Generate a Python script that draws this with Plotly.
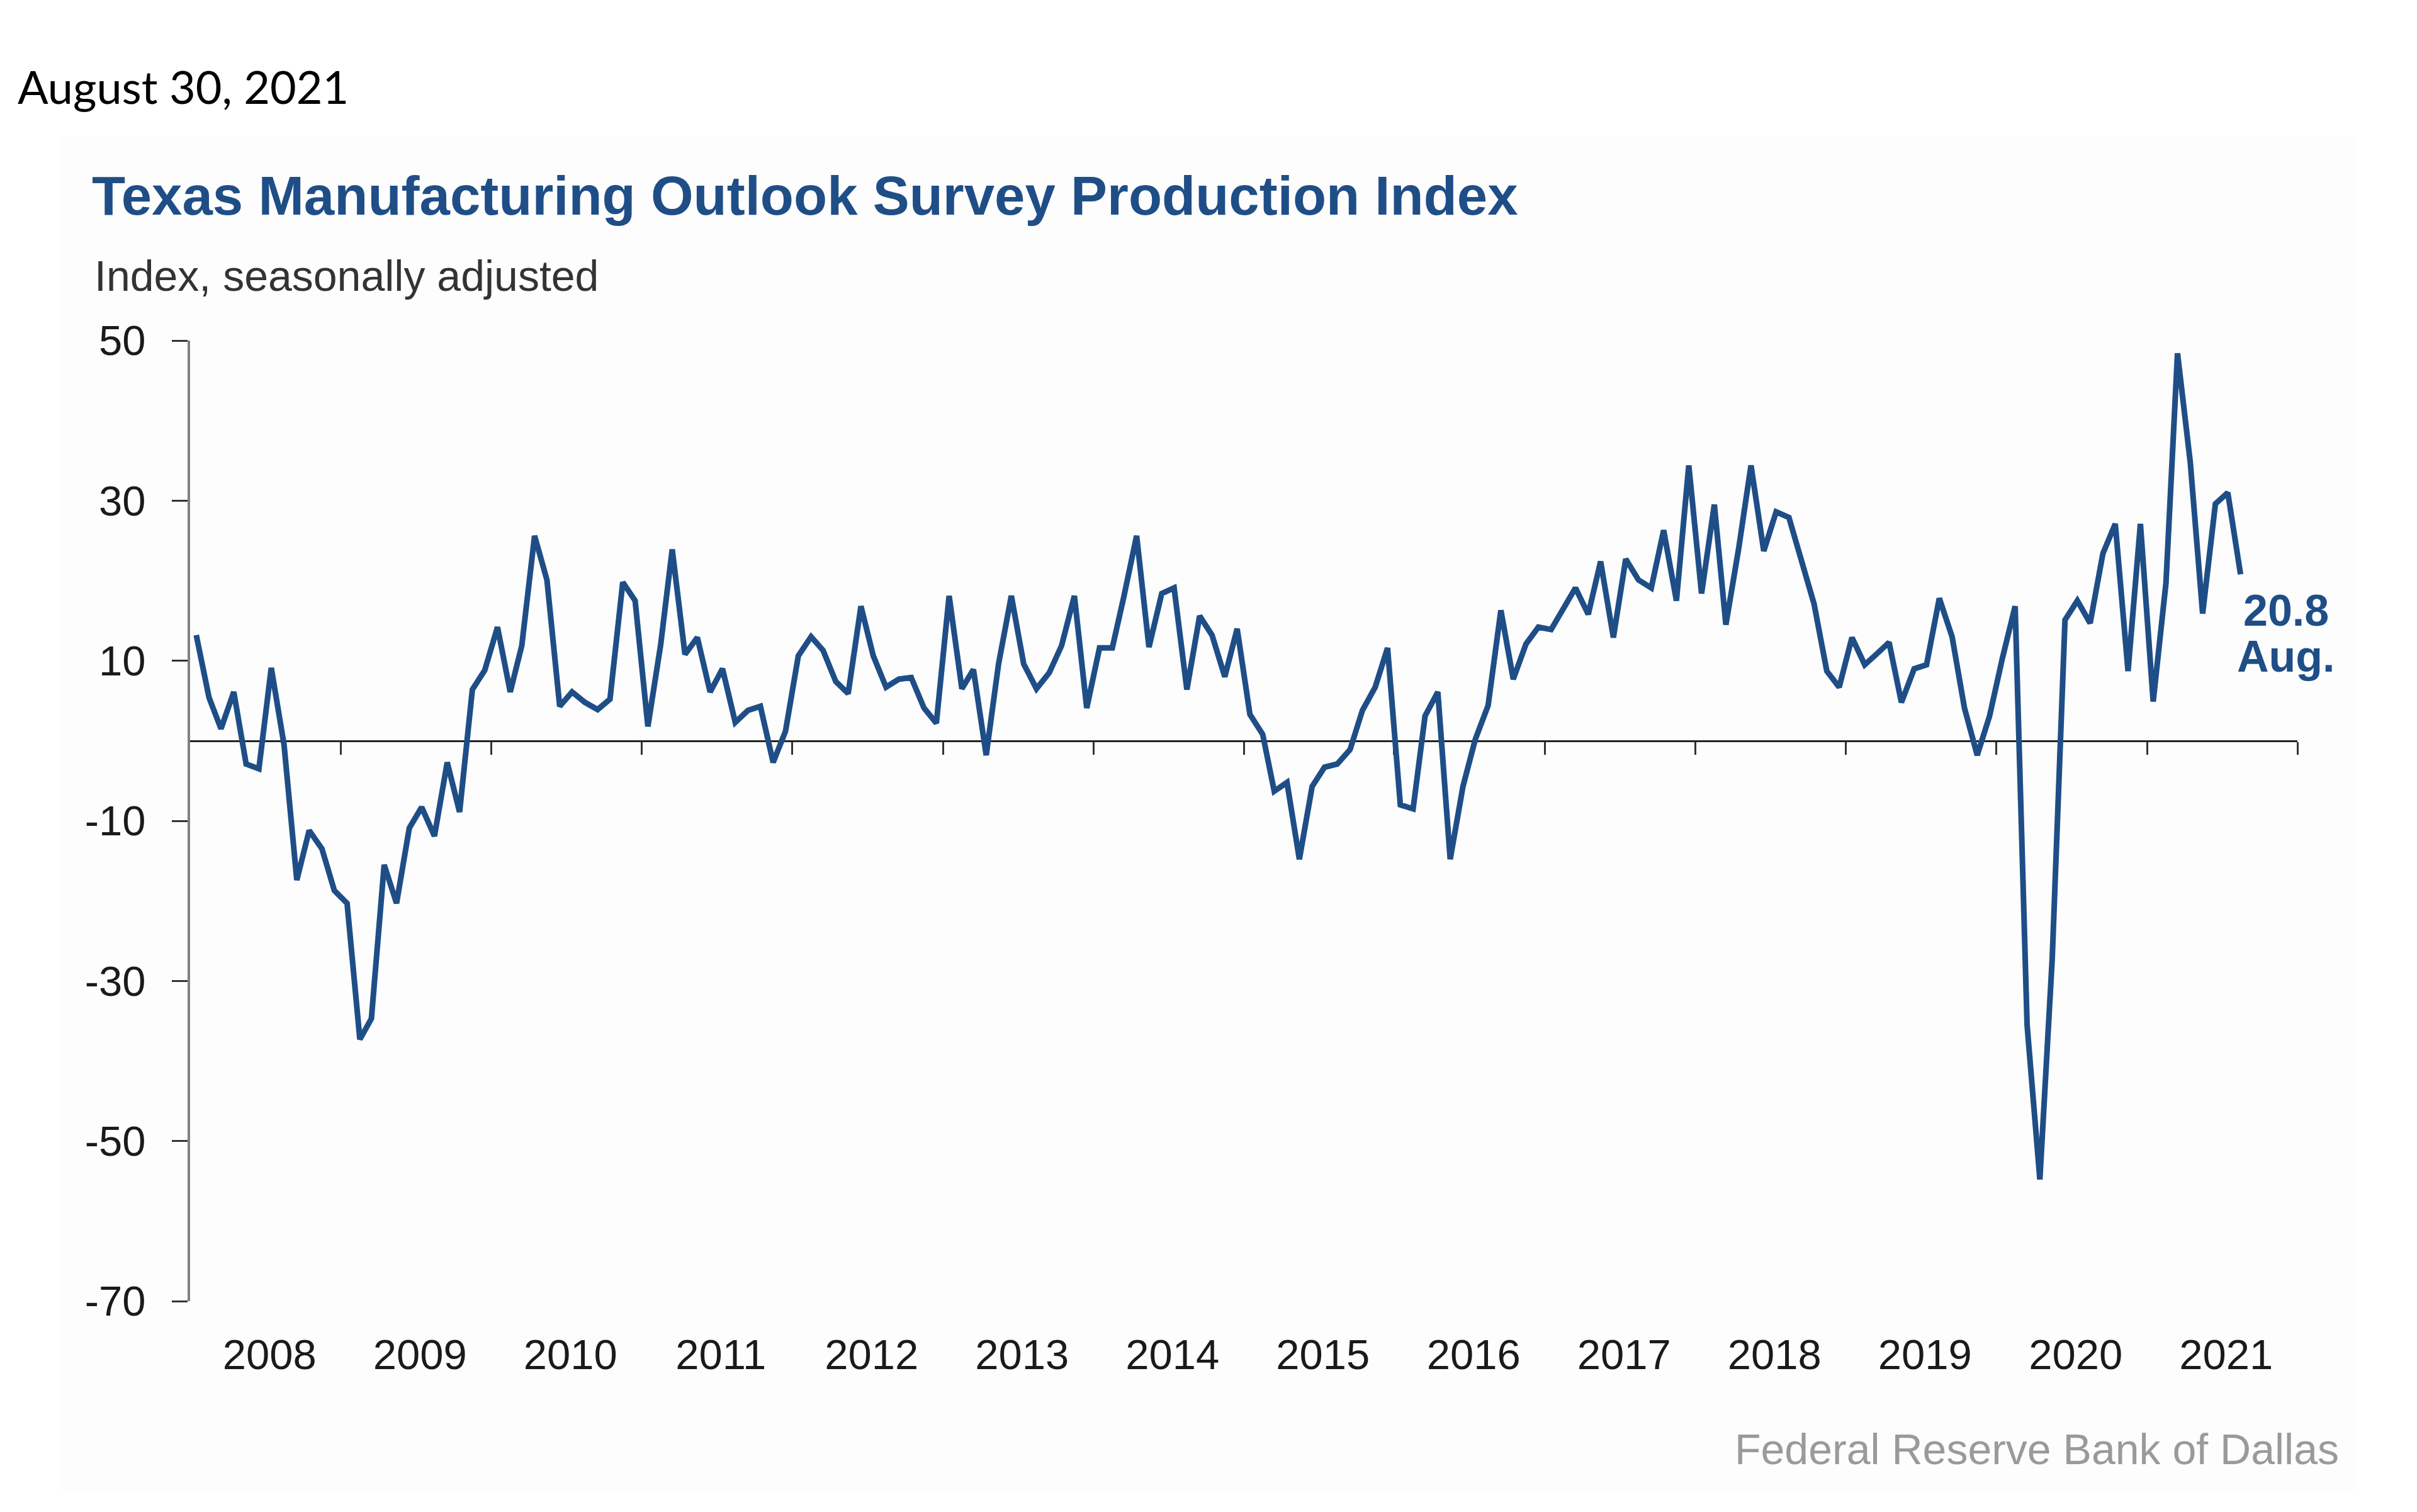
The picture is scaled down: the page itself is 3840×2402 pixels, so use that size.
import plotly.graph_objects as go
import pandas as pd

# ---------------- data ----------------
start_month = "2008-01-01"
production_index = [
    # 2008
    13.2, 5.4, 1.5, 6.1, -2.9, -3.5, 9.1, -0.5, -17.4, -11.2, -13.5, -18.7,
    # 2009
    -20.3, -37.3, -34.7, -15.5, -20.3, -10.9, -8.3, -11.9, -2.7, -8.9, 6.4, 8.8,
    # 2010
    14.2, 6.1, 11.9, 25.6, 20.1, 4.3, 6.1, 4.8, 3.9, 5.2, 19.8, 17.5,
    # 2011
    1.8, 12.0, 23.9, 10.8, 12.9, 6.1, 9.0, 2.3, 3.8, 4.3, -2.7, 1.2,
    # 2012
    10.6, 13.0, 11.3, 7.4, 5.9, 16.8, 10.6, 6.7, 7.7, 7.9, 4.1, 2.2,
    # 2013
    18.1, 6.5, 8.9, -1.8, 9.6, 18.1, 9.6, 6.5, 8.5, 11.9, 18.1, 4.1,
    # 2014
    11.6, 11.6, 18.0, 25.6, 11.7, 18.4, 19.1, 6.4, 15.6, 13.2, 8.0, 14.0,
    # 2015
    3.3, 0.8, -6.3, -5.2, -14.8, -5.7, -3.3, -2.9, -1.1, 3.8, 6.7, 11.6,
    # 2016
    -8.0, -8.5, 3.1, 6.1, -14.8, -5.7, 0.2, 4.4, 16.3, 7.7, 12.1, 14.2,
    # 2017
    13.9, 16.8, 19.1, 15.8, 22.4, 12.9, 22.7, 20.1, 19.1, 26.3, 17.5, 34.4,
    # 2018
    18.4, 29.5, 14.5, 24.0, 34.4, 23.7, 28.6, 27.9, 22.4, 17.1, 8.7, 6.7,
    # 2019
    12.9, 9.5, 10.8, 12.3, 4.8, 9.0, 9.5, 17.8, 13.0, 4.1, -1.8, 3.1,
    # 2020
    10.3, 16.8, -35.5, -54.8, -27.2, 15.1, 17.5, 14.7, 23.4, 27.1, 8.7, 27.1,
    # 2021
    4.9, 19.7, 48.4, 34.8, 15.9, 29.6, 31.0, 20.8,
]
years = list(range(2008, 2022))
year_labels = [str(y) for y in years]
y_tick_values = [-70, -50, -30, -10, 10, 30, 50]
y_tick_labels = ["-70", "-50", "-30", "-10", "10", "30", "50"]
y_range = [-70, 50]

date_text = "August 30, 2021"
title_text = "Texas Manufacturing Outlook Survey Production Index"
subtitle_text = "Index, seasonally adjusted"
source_text = "Federal Reserve Bank of Dallas"

# ---------------- derived ----------------
months = pd.date_range(start_month, periods=len(production_index), freq="MS")
dates = months + pd.Timedelta(days=15)           # plot at mid-month
x_range = [f"{years[0]}-01-01", f"{years[-1] + 1}-01-01"]
label_ticks = [f"{y}-07-12" for y in years]
boundary_ticks = [f"{y}-01-01" for y in years[1:] + [years[-1] + 1]]
last_value_text = f"{production_index[-1]:.1f}"
last_month_text = months[-1].strftime("%b") + "."

BLUE = "#1f4e87"
W, H = 3840, 2402
L, R, T, B = 302, 3650, 541, 2067


def pxx(x):
    return (x - L) / (R - L)


def pxy(y):
    return (B - y) / (B - T)


fig = go.Figure()
fig.add_trace(go.Scatter(
    x=dates, y=production_index, mode="lines",
    line=dict(color=BLUE, width=9), showlegend=False,
    xaxis="x", yaxis="y",
))
# invisible helper trace so the zero-line axis (x2) is drawn
fig.add_trace(go.Scatter(
    x=[dates[0]], y=[None], mode="lines", showlegend=False,
    hoverinfo="skip", xaxis="x2", yaxis="y",
))

tick_font = dict(family="Liberation Sans, Arial, sans-serif", size=67, color="#1a1a1a")

fig.update_layout(
    width=W, height=H,
    margin=dict(l=L, r=W - R, t=T, b=H - B, autoexpand=False),
    paper_bgcolor="white",
    plot_bgcolor="rgba(0,0,0,0)",
    showlegend=False,
    xaxis=dict(
        type="date", range=x_range,
        tickmode="array", tickvals=label_ticks, ticktext=year_labels,
        ticks="", showline=False, showgrid=False, zeroline=False,
        tickfont=tick_font, ticklabelstandoff=40,
    ),
    xaxis2=dict(
        type="date", range=x_range, overlaying="x", anchor="free",
        position=(0 - y_range[0]) / (y_range[1] - y_range[0]),
        tickmode="array", tickvals=boundary_ticks,
        ticks="outside", ticklen=20, tickwidth=3, tickcolor="#333333",
        showticklabels=False, showline=True, linecolor="#222222", linewidth=3,
        showgrid=False, zeroline=False, layer="below traces",
    ),
    yaxis=dict(
        range=y_range, tickmode="array", tickvals=y_tick_values,
        ticktext=y_tick_labels,
        ticks="outside", ticklen=25, tickwidth=3, tickcolor="#333333",
        showline=True, linecolor="#808080", linewidth=4,
        showgrid=False, zeroline=False, layer="below traces",
        tickfont=tick_font, ticklabelstandoff=28,
    ),
    shapes=[dict(
        type="rect", xref="paper", yref="paper", layer="below",
        x0=pxx(98), x1=pxx(3742), y0=pxy(2371), y1=pxy(215),
        fillcolor="#fdfdfd", line=dict(width=0),
    )],
    annotations=[
        dict(text=date_text, xref="paper", yref="paper",
             x=pxx(26), y=pxy(137), xanchor="left", yanchor="middle",
             showarrow=False,
             font=dict(family="Lato, Carlito, sans-serif", size=72, color="#000000")),
        dict(text=f"<b>{title_text}</b>", xref="paper", yref="paper",
             x=pxx(144), y=pxy(311), xanchor="left", yanchor="middle",
             showarrow=False,
             font=dict(family="Liberation Sans, Arial, sans-serif", size=87, color=BLUE)),
        dict(text=subtitle_text, xref="paper", yref="paper",
             x=pxx(148), y=pxy(438), xanchor="left", yanchor="middle",
             showarrow=False,
             font=dict(family="Liberation Sans, Arial, sans-serif", size=68, color="#333333")),
        dict(text=source_text, xref="paper", yref="paper",
             x=pxx(3718), y=pxy(2302), xanchor="right", yanchor="middle",
             showarrow=False,
             font=dict(family="Liberation Sans, Arial, sans-serif", size=68, color="#9a9a9a")),
        dict(text=f"<b>{last_value_text}</b>", xref="x", yref="y",
             x=dates[-1], y=production_index[-1], xanchor="center", yanchor="middle",
             xshift=72, yshift=-58, showarrow=False,
             font=dict(family="Liberation Sans, Arial, sans-serif", size=70, color=BLUE)),
        dict(text=f"<b>{last_month_text}</b>", xref="x", yref="y",
             x=dates[-1], y=production_index[-1], xanchor="center", yanchor="middle",
             xshift=72, yshift=-131, showarrow=False,
             font=dict(family="Liberation Sans, Arial, sans-serif", size=70, color=BLUE)),
    ],
)

fig.write_html("out.html", config={"displayModeBar": False},
               post_script="document.body.style.margin='0';")
